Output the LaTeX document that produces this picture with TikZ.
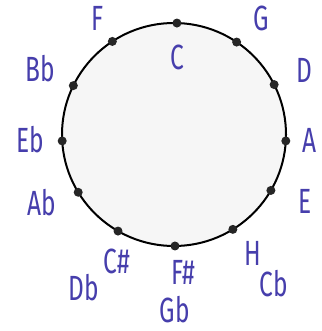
\documentclass[tikz,border=0pt]{standalone}
\usepackage{fontspec}
\setmainfont{Fira Sans}
\usetikzlibrary{calc}
\definecolor{ink}{RGB}{70,62,172}
\definecolor{paper}{RGB}{246,246,246}
\tikzset{
  dot/.style={circle,fill=black!85,inner sep=0pt,minimum size=9pt},
  lab/.style={text=ink,font=\fontsize{35}{35}\selectfont,inner sep=0pt,xscale=0.7,transform shape},
}
\begin{document}
\begin{tikzpicture}[x=1pt,y=-1pt]
\useasboundingbox[fill=white] (0,0) rectangle (321,331);
\coordinate (O) at (174,134.5);
\draw[line width=2pt,fill=paper] (O) ellipse [x radius=112, y radius=111.5];
% dots (angles in math convention, y up)
\foreach \n/\a in {C/88.5,G/56,D/26.6,A/-3.3,E/-30.1,H/-58.3,Fs/-89.5,Db/-120,Ab/-148.8,Eb/183.3,Bb/154,F/123.4}{
  \node[dot] (d\n) at ($(O)+({112*cos(\a)},{-111.5*sin(\a)})$) {};
}
% labels
\node[lab] (lF) at (98,18) {F};
\node[lab] (lBb) at (40,69) {Bb};
\node[lab] (lEb) at (30,140) {Eb};
\node[lab] (lC) at (177,57) {C};
\node[lab] (lG) at (261,18) {G};
\node[lab] (lD) at (304,70) {D};
\node[lab,anchor=west] (lA) at (302,140) {A};
\node[lab] (lE) at (305,201) {E};
\node[lab] (lH) at (253,253) {H};
\node[lab] (lCb) at (274,284) {Cb};
\node[lab] (lFs) at (183,272) {F\#};
\node[lab] (lGb) at (175,310) {Gb};
\node[lab] (lAb) at (42,203) {Ab};
\node[lab] (lDb) at (84,288) {Db};
\node[lab] (lCs) at (117,261) {C\#};
\end{tikzpicture}
\end{document}
